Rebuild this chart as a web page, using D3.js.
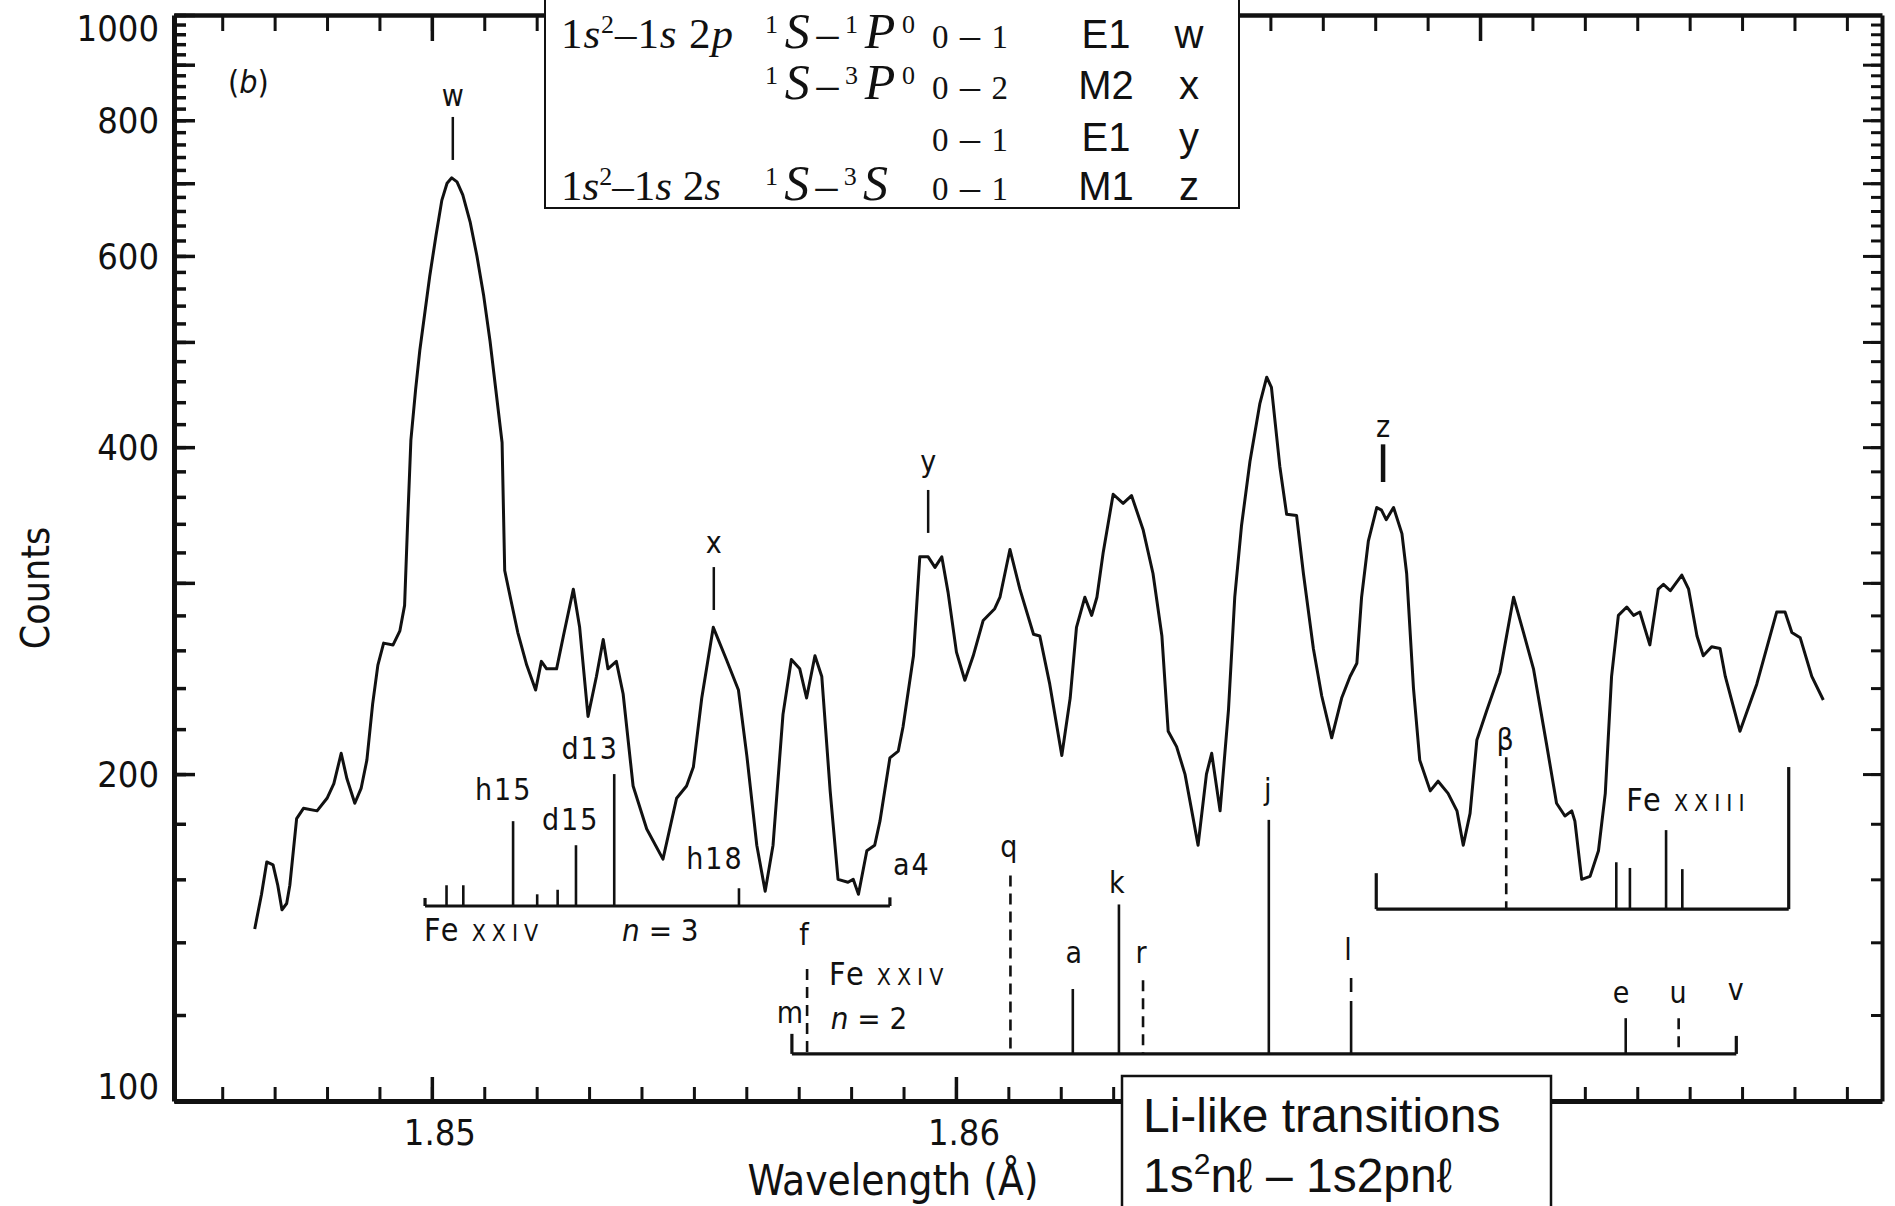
<!DOCTYPE html>
<html>
<head>
<meta charset="utf-8">
<script src="https://cdnjs.cloudflare.com/ajax/libs/d3/7.8.5/d3.min.js"></script>
<style>
html,body{margin:0;padding:0;background:#fff;}
svg{display:block;}
</style>
</head>
<body>
<svg id="chart" width="1895" height="1206"></svg>
<script>
// ================= DATA =================
// Spectrum: wavelength (Å) and counts
const wavelength = [
1.84662,1.84675,1.84685,1.84697,1.84706,1.84714,1.84723,1.84729,1.84742,1.84755,
1.84781,1.84800,1.84813,1.84827,1.84838,1.84853,1.84865,1.84876,1.84887,1.84897,
1.84908,1.84926,1.84939,1.84948,1.84954,1.84960,1.84969,1.84977,1.84996,1.85008,
1.85019,1.85029,1.85038,1.85048,1.85059,1.85073,1.85086,1.85099,1.85111,1.85122,
1.85134,1.85139,1.85151,1.85164,1.85181,1.85198,1.85209,1.85219,1.85238,1.85251,
1.85270,1.85282,1.85298,1.85314,1.85327,1.85336,1.85352,1.85365,1.85384,1.85410,
1.85441,1.85467,1.85486,1.85499,1.85515,1.85537,1.85562,1.85585,1.85601,1.85620,
1.85636,1.85651,1.85670,1.85686,1.85702,1.85715,1.85731,1.85744,1.85760,1.85775,
1.85794,1.85804,1.85814,1.85830,1.85845,1.85855,1.85874,1.85890,1.85899,1.85919,
1.85931,1.85947,1.85960,1.85973,1.85985,1.86001,1.86017,1.86033,1.86052,1.86074,
1.86084,1.86103,1.86122,1.86148,1.86160,1.86179,1.86202,1.86218,1.86230,1.86246,
1.86259,1.86269,1.86281,1.86300,1.86319,1.86335,1.86357,1.86376,1.86393,1.86405,
1.86421,1.86437,1.86450,1.86462,1.86478,1.86488,1.86504,1.86520,1.86532,1.86545,
1.86561,1.86580,1.86593,1.86602,1.86618,1.86631,1.86650,1.86663,1.86682,1.86698,
1.86717,1.86736,1.86752,1.86765,1.86774,1.86787,1.86803,1.86812,1.86821,1.86835,
1.86851,1.86860,1.86873,1.86885,1.86905,1.86920,1.86939,1.86956,1.86968,1.86981,
1.86994,1.87013,1.87038,1.87064,1.87083,1.87102,1.87127,1.87146,1.87162,1.87175,
1.87181,1.87194,1.87210,1.87226,1.87239,1.87251,1.87264,1.87280,1.87293,1.87305,
1.87324,1.87340,1.87350,1.87363,1.87385,1.87398,1.87414,1.87426,1.87442,1.87458,
1.87468,1.87496,1.87528,1.87566,1.87582,1.87595,1.87611,1.87633,1.87655];
const counts = [
144,155,166,165,158,150,152,158,182,186,
185,190,196,209,198,188,194,206,232,252,
264,263,271,286,343,406,452,491,575,627,
675,700,708,702,683,645,600,551,501,452,
404,308,289,270,252,239,254,250,250,268,
296,273,226,246,266,250,254,237,195,178,
167,190,195,203,235,273,255,239,208,172,
156,172,227,255,250,235,257,246,193,160,
159,160,155,170,172,181,207,210,221,257,
317,317,310,317,294,259,244,257,277,284,
291,322,296,269,268,242,208,235,273,291,
280,291,320,362,355,361,336,306,268,219,
212,200,185,172,200,209,185,229,291,339,
388,439,464,454,384,347,346,306,261,236,
216,235,246,253,291,328,352,350,343,352,
333,306,240,206,193,197,192,185,172,184,
215,229,248,291,270,250,213,188,183,185,
181,160,161,170,192,246,280,285,280,282,
263,296,299,295,305,296,268,257,262,261,
246,219,242,282,282,270,267,246,234];

// Axes
const xDomain = [1.84508, 1.87767];
const yDomain = [100, 1000];
const xTickValues = [1.85, 1.86];
const xTickLabels = ["1.85", "1.86"];
const yTickValues = [100, 200, 400, 600, 800, 1000];
const yTickLabels = ["100", "200", "400", "600", "800", "1000"];

// Peak markers (He-like lines)
const peakIds = ["w", "x", "y", "z"];
const peakWave = [1.85040, 1.85538, 1.85947, 1.86815];
const peakLabelCount = [824.6, 319.6, 379.5, 408.8];
const peakLineFrom = [805.6, 310.2, 365.3, 402.4];
const peakLineTo = [735.4, 283.2, 333.5, 371.5];

// Fe XXIV n=3 satellites
const n3Span = [1.84987, 1.85874];
const n3Base = 151.2;
const n3EndTop = [153.8, 154.0];
const n3Wave = [1.85028, 1.85060, 1.85155, 1.85201, 1.85240, 1.85275, 1.85348, 1.85586];
const n3Top = [158, 158, 181, 155, 156.5, 172, 200, 157];
const n3LabelText = ["h15", "d15", "d13", "h18", "a4"];
const n3LabelWave = [1.85137, 1.85265, 1.85302, 1.85540, 1.85916];
const n3LabelCount = [189.3, 177.6, 206.4, 163.5, 161.5];

// Fe XXIV n=2 satellites
const n2Span = [1.85687, 1.87489];
const n2Base = 110.5;
const n2EndTop = [115.3, 114.8];
const n2Ids = ["f", "q", "a", "k", "r", "j", "l", "e", "u"];
const n2Wave = [1.85716, 1.86104, 1.86223, 1.86311, 1.86357, 1.86597, 1.86754, 1.87278, 1.87379];
const n2Top = [132.3, 161.3, 126.8, 151.7, 129.2, 181.5, 129.8, 119.2, 119.2];
const n2LabelText = ["m", "f", "q", "a", "k", "r", "j", "l", "e", "u", "v"];
const n2LabelWave = [1.85683, 1.85710, 1.86101, 1.86225, 1.86307, 1.86353, 1.86595, 1.86748, 1.87269, 1.87378, 1.87488];
const n2LabelCount = [118.0, 139.2, 167.8, 134.0, 155.4, 134.0, 189.3, 134.8, 123.1, 123.1, 123.9];

// Fe XXIII lines
const n23Span = [1.86802, 1.87589];
const n23Base = 150.2;
const n23EndTop = [162.1, 203.0];
const n23Ids = ["β", "", "", "", ""];
const n23Wave = [1.87050, 1.87260, 1.87286, 1.87355, 1.87386];
const n23Top = [207.3, 165.9, 163.9, 177.6, 163.5];
const n23LabelText = ["β"];
const n23LabelWave = [1.87048];
const n23LabelCount = [210.5];

// Lines drawn dashed (blended / uncertain identifications)
const dashedIds = ["f", "q", "r", "u", "β"];
const dashTopIds = ["l"];

// Group captions
const captionText = ["Fe", "Fe", "Fe"];
const captionIon = ["XXIV", "XXIV", "XXIII"];
const captionWave = [1.84985, 1.85758, 1.87279];
const captionCount = [140.4, 127.9, 184.9];
const nText = ["n = 3", "n = 2"];
const nWave = [1.85363, 1.85761];
const nCount = [140.4, 116.5];

// Legend table ('^' marks a superscript character)
const legendConfig = ["1s^2–1s 2p", "", "", "1s^2–1s 2s"];
const legendTerm = ["^1S–^1P^0", "^1S–^3P^0", "", "^1S–^3S"];
const legendJ = ["0–1", "0–2", "0–1", "0–1"];
const legendType = ["E1", "M2", "E1", "M1"];
const legendKey = ["w", "x", "y", "z"];

// ================= DRAWING =================
const svg = d3.select('#chart');
const INK = '#111';
const SANS = "'DejaVu Sans Condensed','DejaVu Sans',sans-serif";
const SERIF = "'Liberation Serif','DejaVu Serif',serif";
const ARIAL = "'Liberation Sans',Arial,sans-serif";

const x = d3.scaleLinear().domain(xDomain).range([174, 1882]);
const y = d3.scaleLog().domain(yDomain).range([1101, 15]);
const [X0, X1] = x.range();
const [Y0, Y1] = y.range();

const yMinor = d3.range(100, 1001, 20);
const yMajor = d3.range(100, 1001, 100);
const xMinor = d3.range(1846, 1878).map(v => v / 1000);
const xMajor = [1.85, 1.86, 1.87];

function styleAxis(g, dw, tw) {
  g.select('.domain').attr('stroke', INK).attr('stroke-width', dw);
  g.selectAll('.tick line').attr('stroke', INK).attr('stroke-width', tw);
  g.selectAll('.tick text').remove();
}
function noDomain(g, tw) {
  g.select('.domain').remove();
  g.selectAll('.tick line').attr('stroke', INK).attr('stroke-width', tw);
  g.selectAll('.tick text').remove();
}
const axes = svg.append('g');
axes.append('g').attr('transform', `translate(${X0},0)`)
  .call(d3.axisLeft(y).tickValues(yMinor).tickSize(-12).tickSizeOuter(0).tickFormat(''))
  .call(g => styleAxis(g, 5, 3.5));
axes.append('g').attr('transform', `translate(${X0},0)`)
  .call(d3.axisLeft(y).tickValues(yMajor).tickSize(-21).tickFormat(''))
  .call(g => noDomain(g, 3.5));
axes.append('g').attr('transform', `translate(${X1},0)`)
  .call(d3.axisRight(y).tickValues(yMinor).tickSize(-11).tickSizeOuter(0).tickFormat(''))
  .call(g => styleAxis(g, 4, 3));
axes.append('g').attr('transform', `translate(${X1},0)`)
  .call(d3.axisRight(y).tickValues(yMajor).tickSize(-19).tickFormat(''))
  .call(g => noDomain(g, 3));
axes.append('g').attr('transform', `translate(0,${Y0})`)
  .call(d3.axisBottom(x).tickValues(xMinor).tickSize(-14).tickSizeOuter(0).tickFormat(''))
  .call(g => styleAxis(g, 5, 3));
axes.append('g').attr('transform', `translate(0,${Y0})`)
  .call(d3.axisBottom(x).tickValues(xMajor).tickSize(-24).tickFormat(''))
  .call(g => noDomain(g, 3.5));
axes.append('g').attr('transform', `translate(0,${Y1})`)
  .call(d3.axisTop(x).tickValues(xMinor).tickSize(-16).tickSizeOuter(0).tickFormat(''))
  .call(g => styleAxis(g, 4.5, 3));
axes.append('g').attr('transform', `translate(0,${Y1})`)
  .call(d3.axisTop(x).tickValues(xMajor).tickSize(-26).tickFormat(''))
  .call(g => noDomain(g, 3.5));

// Y tick labels
yTickValues.forEach((v, i) => {
  const py = Math.min(Math.max(y(v), 28), 1086);
  svg.append('text').attr('x', X0 - 15).attr('y', py).attr('dy', '0.36em')
    .attr('text-anchor', 'end').attr('font-family', SANS).attr('font-size', 36)
    .attr('fill', INK).text(yTickLabels[i]);
});
// X tick labels
xTickValues.forEach((v, i) => {
  svg.append('text').attr('x', x(v) + 8).attr('y', 1145)
    .attr('text-anchor', 'middle').attr('font-family', SANS).attr('font-size', 36)
    .attr('fill', INK).text(xTickLabels[i]);
});
// Axis titles
svg.append('text').attr('transform', 'translate(35,588) rotate(-90)')
  .attr('text-anchor', 'middle').attr('dy', '0.35em')
  .attr('font-family', SANS).attr('font-size', 39).attr('fill', INK).text('Counts');
svg.append('text').attr('x', 893).attr('y', 1195).attr('text-anchor', 'middle')
  .attr('font-family', SANS).attr('font-size', 42).attr('fill', INK).text('Wavelength (Å)');

// panel label
const pl = svg.append('text').attr('x', 228).attr('y', 93)
  .attr('font-family', SANS).attr('font-size', 32).attr('fill', INK);
pl.append('tspan').text('(');
pl.append('tspan').attr('font-style', 'italic').text('b');
pl.append('tspan').text(')');

// Spectrum curve
const pts = wavelength.map((w, i) => [w, counts[i]]);
svg.append('path').datum(pts)
  .attr('d', d3.line().x(d => x(d[0])).y(d => y(d[1])))
  .attr('fill', 'none').attr('stroke', INK).attr('stroke-width', 3).attr('stroke-linejoin', 'round');

// Peak markers
peakIds.forEach((id, i) => {
  const px = x(peakWave[i]);
  svg.append('line').attr('x1', px).attr('x2', px)
    .attr('y1', y(peakLineFrom[i])).attr('y2', y(peakLineTo[i]))
    .attr('stroke', INK).attr('stroke-width', id === 'z' ? 4.5 : 2.5);
  svg.append('text').attr('x', px).attr('y', y(peakLabelCount[i]))
    .attr('text-anchor', 'middle').attr('font-family', SANS).attr('font-size', 30)
    .attr('fill', INK).text(id);
});

function dashFor(id) {
  if (dashedIds.includes(id)) return '11,7';
  if (dashTopIds.includes(id)) return '14,9,400';
  return null;
}
function bracket(span, base, endTop, waves, tops, ids) {
  const g = svg.append('g').attr('stroke', INK);
  g.append('line').attr('x1', x(span[0])).attr('x2', x(span[1]))
    .attr('y1', y(base)).attr('y2', y(base)).attr('stroke-width', 3.2);
  [0, 1].forEach(k => {
    g.append('line').attr('x1', x(span[k])).attr('x2', x(span[k]))
      .attr('y1', y(base)).attr('y2', y(endTop[k])).attr('stroke-width', 3.2);
  });
  waves.forEach((w, i) => {
    const id = ids ? ids[i] : '';
    const l = g.append('line').attr('x1', x(w)).attr('x2', x(w))
      .attr('y1', y(tops[i])).attr('y2', y(base)).attr('stroke-width', 2.6);
    const d = dashFor(id);
    if (d) l.attr('stroke-dasharray', d);
  });
}
function labels(texts, waves, cts) {
  texts.forEach((t, i) => {
    svg.append('text').attr('x', x(waves[i])).attr('y', y(cts[i]))
      .attr('text-anchor', 'middle').attr('font-family', SANS).attr('font-size', 30)
      .attr('letter-spacing', t.length > 1 ? 2 : 0)
      .attr('fill', INK).text(t);
  });
}
bracket(n3Span, n3Base, n3EndTop, n3Wave, n3Top, null);
labels(n3LabelText, n3LabelWave, n3LabelCount);
bracket(n2Span, n2Base, n2EndTop, n2Wave, n2Top, n2Ids);
labels(n2LabelText, n2LabelWave, n2LabelCount);
bracket(n23Span, n23Base, n23EndTop, n23Wave, n23Top, n23Ids);
labels(n23LabelText, n23LabelWave, n23LabelCount);

// captions
captionText.forEach((t, i) => {
  const tx = svg.append('text').attr('x', x(captionWave[i])).attr('y', y(captionCount[i]))
    .attr('font-family', SANS).attr('fill', INK).attr('font-size', 32);
  tx.append('tspan').attr('letter-spacing', 2).text(t + ' ');
  tx.append('tspan').attr('font-size', 23).attr('letter-spacing', 6).text(captionIon[i]);
});
nText.forEach((t, i) => {
  const tx = svg.append('text').attr('x', x(nWave[i])).attr('y', y(nCount[i]))
    .attr('font-family', SANS).attr('fill', INK).attr('font-size', 31);
  const parts = t.split(' ');
  tx.append('tspan').attr('font-style', 'italic').text(parts[0]);
  tx.append('tspan').text(' ' + parts.slice(1).join(' '));
});

// Legend table (top box)
svg.append('rect').attr('x', 545).attr('y', -5).attr('width', 694).attr('height', 213)
  .attr('fill', '#fff').attr('stroke', INK).attr('stroke-width', 2);
const rowY = [48, 99, 151, 200];
function mathText(str, px, py, len, base, big) {
  if (!str) return;
  const t = svg.append('text').attr('x', px).attr('y', py)
    .attr('font-family', SERIF).attr('font-size', base).attr('fill', INK);
  const chars = Array.from(str);
  let raised = false;
  for (let k = 0; k < chars.length; k++) {
    let ch = chars[k];
    if (ch === '^') {
      ch = chars[++k];
      t.append('tspan').attr('font-size', 26).attr('dy', raised ? 0 : -15).text(ch);
      raised = true;
      continue;
    }
    const isLetter = /[a-zA-Z]/.test(ch);
    const sp = t.append('tspan').attr('font-style', isLetter ? 'italic' : 'normal')
      .attr('dy', raised ? 15 : 0).text(ch);
    if (isLetter && big) sp.attr('font-size', big);
    raised = false;
  }
  if (len) t.attr('textLength', len).attr('lengthAdjust', 'spacing');
}
legendConfig.forEach((s, i) => mathText(s, 561, rowY[i], i === 0 ? 172 : 160, 43, null));
legendTerm.forEach((s, i) => mathText(s, 765, rowY[i], i === 3 ? 123 : 150, 44, 50));
legendJ.forEach((s, i) => {
  const t = svg.append('text').attr('x', 932).attr('y', rowY[i]).attr('font-family', SERIF)
    .attr('font-size', 40).attr('fill', INK).attr('textLength', 76).attr('lengthAdjust', 'spacing');
  Array.from(s).forEach(ch => {
    t.append('tspan').attr('font-size', /[0-9]/.test(ch) ? 33 : 40).text(ch);
  });
});
legendType.forEach((s, i) => {
  svg.append('text').attr('x', 1106).attr('y', rowY[i]).attr('text-anchor', 'middle')
    .attr('font-family', ARIAL).attr('font-size', 40).attr('fill', INK).text(s);
});
legendKey.forEach((s, i) => {
  svg.append('text').attr('x', 1189).attr('y', rowY[i]).attr('text-anchor', 'middle')
    .attr('font-family', ARIAL).attr('font-size', 40).attr('fill', INK).text(s);
});

// Li-like transitions box
svg.append('rect').attr('x', 1122).attr('y', 1076).attr('width', 429).attr('height', 140)
  .attr('fill', '#fff').attr('stroke', INK).attr('stroke-width', 2.5);
svg.append('text').attr('x', 1143).attr('y', 1132).attr('font-family', ARIAL)
  .attr('font-size', 48).attr('fill', INK).text('Li-like transitions');
const l2 = svg.append('text').attr('x', 1143).attr('y', 1192).attr('font-family', ARIAL)
  .attr('font-size', 48).attr('fill', INK);
l2.append('tspan').text('1s');
l2.append('tspan').attr('font-size', 30).attr('dy', -18).text('2');
l2.append('tspan').attr('dy', 18).text('nℓ – 1s2pnℓ');
</script>
</body>
</html>
